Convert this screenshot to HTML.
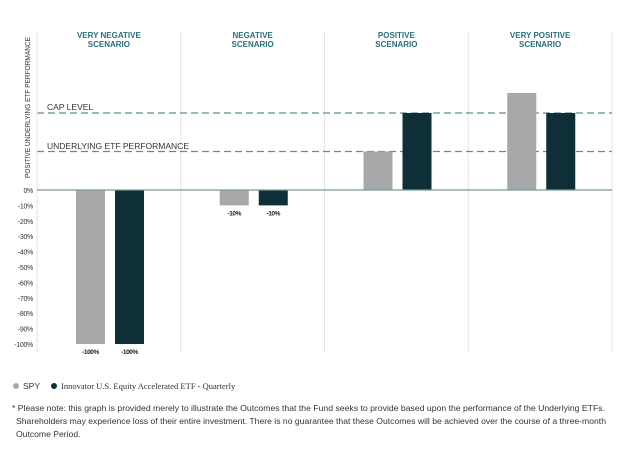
<!DOCTYPE html>
<html><head><meta charset="utf-8"><style>
body{margin:0;background:#fff;}
svg{display:block;font-family:"Liberation Sans",sans-serif;}
</style></head><body>
<svg id="chart" width="624" height="451" viewBox="0 0 624 451">
<g id="grid"></g>
<g id="bars"></g>
<g id="axis"></g>
<text transform="translate(30,178) rotate(-90)" font-size="7" fill="#333" textLength="141" lengthAdjust="spacingAndGlyphs">POSITIVE UNDERLYING ETF PERFORMANCE</text>
<text x="47" y="110" font-size="8.5" fill="#333">CAP LEVEL</text>
<text x="47" y="149" font-size="8.5" fill="#333">UNDERLYING ETF PERFORMANCE</text>
<g>
<circle cx="16" cy="386" r="3" fill="#a7a8aa"/>
<text x="23" y="389" font-size="8.5" fill="#333">SPY</text>
<circle cx="54" cy="386" r="3" fill="#0e2f38"/>
<text x="61" y="389" font-size="8.5" fill="#333" font-family="Liberation Serif, serif">Innovator U.S. Equity Accelerated ETF - Quarterly</text>
</g>
<g font-size="8.6" fill="#333">
<text x="12" y="411" textLength="593" lengthAdjust="spacingAndGlyphs">* Please note: this graph is provided merely to illustrate the Outcomes that the Fund seeks to provide based upon the performance of the Underlying ETFs.</text>
<text x="16" y="424" textLength="590" lengthAdjust="spacingAndGlyphs">Shareholders may experience loss of their entire investment. There is no guarantee that these Outcomes will be achieved over the course of a three-month</text>
<text x="16" y="437">Outcome Period.</text>
</g>
</svg>
<script>
const scenarios=["VERY NEGATIVE|SCENARIO","NEGATIVE|SCENARIO","POSITIVE|SCENARIO","VERY POSITIVE|SCENARIO"];
const spyValues=[-100,-10,25,63];
const fundValues=[-100,-10,50,50];
const barLabels=[["-100%","-100%"],["-10%","-10%"],["",""],["",""]];
const tickValues=[0,-10,-20,-30,-40,-50,-60,-70,-80,-90,-100];
const capLevel=50;
const underlyingLevel=25;

const NS="http://www.w3.org/2000/svg";
const x0=37,x1=612,pw=(x1-x0)/4;
function y(v){return 190-v*1.54;}
function mk(tag,attrs,parent){const e=document.createElementNS(NS,tag);for(const k in attrs)e.setAttribute(k,attrs[k]);parent.appendChild(e);return e;}
const grid=document.getElementById('grid'),bars=document.getElementById('bars'),axis=document.getElementById('axis');
for(let i=1;i<=4;i++){
  const l=mk('line',{x1:x0+pw*i,x2:x0+pw*i,y1:32,y2:352,stroke:'#e3e5e6','stroke-width':1},grid);
  
  
}
[capLevel,underlyingLevel].forEach((v,i)=>{
  const l=mk('line',{x1:x0,x2:x1,y1:y(v),y2:y(v),stroke:'#5e8f92','stroke-width':1.3,'stroke-dasharray':'7,4'},grid);
  
  
});
scenarios.forEach((s,i)=>{
  const cx=x0+pw*i+pw/2;
  s.split('|').forEach((t,j)=>{
    const tx=mk('text',{x:cx,y:38+j*9,'text-anchor':'middle','font-size':8,'font-weight':'bold',fill:'#2a6f7a'},grid);
    tx.textContent=t;
    
    
  });
  [spyValues[i],fundValues[i]].forEach((v,j)=>{
    const bx=x0+pw*i+39+j*39,bw=29;
    const top=Math.min(y(v),y(0)),h=Math.abs(y(v)-y(0));
    const r=mk('rect',{x:bx,y:top,width:bw,height:h,fill:j==0?'#a7a8aa':'#0e2f38'},bars);
    
    
    if(barLabels[i][j]){
      const t=mk('text',{x:bx+bw/2,y:y(v)+10,'text-anchor':'middle','font-size':6.5,fill:'#222','font-weight':'bold','letter-spacing':'-0.4'},bars);
      t.textContent=barLabels[i][j];
      
      
    }
  });
});
const al=mk('line',{x1:x0,x2:x0,y1:32,y2:352,stroke:'#e3e5e6','stroke-width':1},axis);


const zl=mk('line',{x1:x0,x2:x1,y1:y(0),y2:y(0),stroke:'#7d9799','stroke-width':1.3},axis);


tickValues.forEach(v=>{
  const t=mk('text',{x:33,y:y(v)+3,'text-anchor':'end','font-size':7,fill:'#333','letter-spacing':'-0.3'},axis);
  t.textContent=v+'%';
  
  
});
</script>
</body></html>
